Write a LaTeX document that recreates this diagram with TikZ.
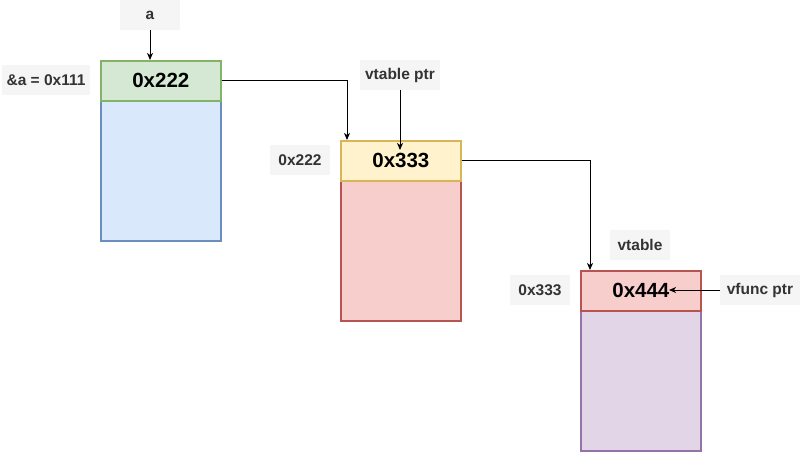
\documentclass[tikz,border=0pt]{standalone}
\usepackage{fontspec}
\setmainfont{Liberation Sans}
\usetikzlibrary{arrows.meta}
\definecolor{gfill}{HTML}{D5E8D4}\definecolor{gline}{HTML}{82B366}
\definecolor{bfill}{HTML}{DAE8FC}\definecolor{bline}{HTML}{6C8EBF}
\definecolor{yfill}{HTML}{FFF2CC}\definecolor{yline}{HTML}{D6B656}
\definecolor{rfill}{HTML}{F8CECC}\definecolor{rline}{HTML}{B85450}
\definecolor{pfill}{HTML}{E1D5E7}\definecolor{pline}{HTML}{9673A6}
\definecolor{lfill}{HTML}{F5F5F5}\definecolor{ltext}{HTML}{333333}
\begin{document}
\begin{tikzpicture}[x=1pt,y=-1pt,
  cell/.style={draw, line width=1.7pt, minimum width=120pt, anchor=north west, inner sep=0pt},
  head/.style={cell, minimum height=40pt, font=\fontsize{20.5}{23}\selectfont\bfseries},
  body/.style={cell, minimum height=140pt},
  lab/.style={fill=lfill, text=ltext, inner sep=0pt, font=\fontsize{15.5}{17}\selectfont\bfseries},
  arr/.style={line width=1pt, -{Stealth[length=7pt,width=6pt,inset=2pt]}}]
\useasboundingbox (0,0) rectangle (800,451);
% box A
\node[body, fill=bfill, draw=bline] (abody) at (100,100) {};
\node[head, fill=gfill, draw=gline] (ahead) at (100,60) {0x222};
\node[lab, minimum width=60pt, minimum height=30pt] (la) at (150,15) {a};
\node[lab, minimum width=88pt, minimum height=30pt] (laddr) at (46,80) {\&a = 0x111};
% box B
\node[body, fill=rfill, draw=rline] (bbody) at (340,180) {};
\node[head, fill=yfill, draw=yline] (bhead) at (340,140) {0x333};
\node[lab, minimum width=60pt, minimum height=30pt] (lb) at (300,160) {0x222};
\node[lab, minimum width=80pt, minimum height=30pt] (lvp) at (400,75) {vtable ptr};
% box C
\node[body, fill=pfill, draw=pline] (cbody) at (580,310) {};
\node[head, fill=rfill, draw=rline] (chead) at (580,270) {0x444};
\node[lab, minimum width=60pt, minimum height=30pt] (lc) at (540,290) {0x333};
\node[lab, minimum width=60pt, minimum height=30pt] (lvt) at (640,245) {vtable};
\node[lab, minimum width=80pt, minimum height=30pt] (lvf) at (760,290) {vfunc ptr};
% connectors
\coordinate (bin) at (347,140);
\coordinate (cin) at (590,270);
\coordinate (vpend) at (400,150);
\coordinate (vfend) at (669,290);
\draw[arr] (la.south) -- (la.south |- ahead.north);
\draw[arr] (ahead.east) -| (bin);
\draw[arr] (lvp.south) -- (vpend);
\draw[arr] (bhead.east) -| (cin);
\draw[arr] (lvf.west) -- (vfend);
\end{tikzpicture}
\end{document}
